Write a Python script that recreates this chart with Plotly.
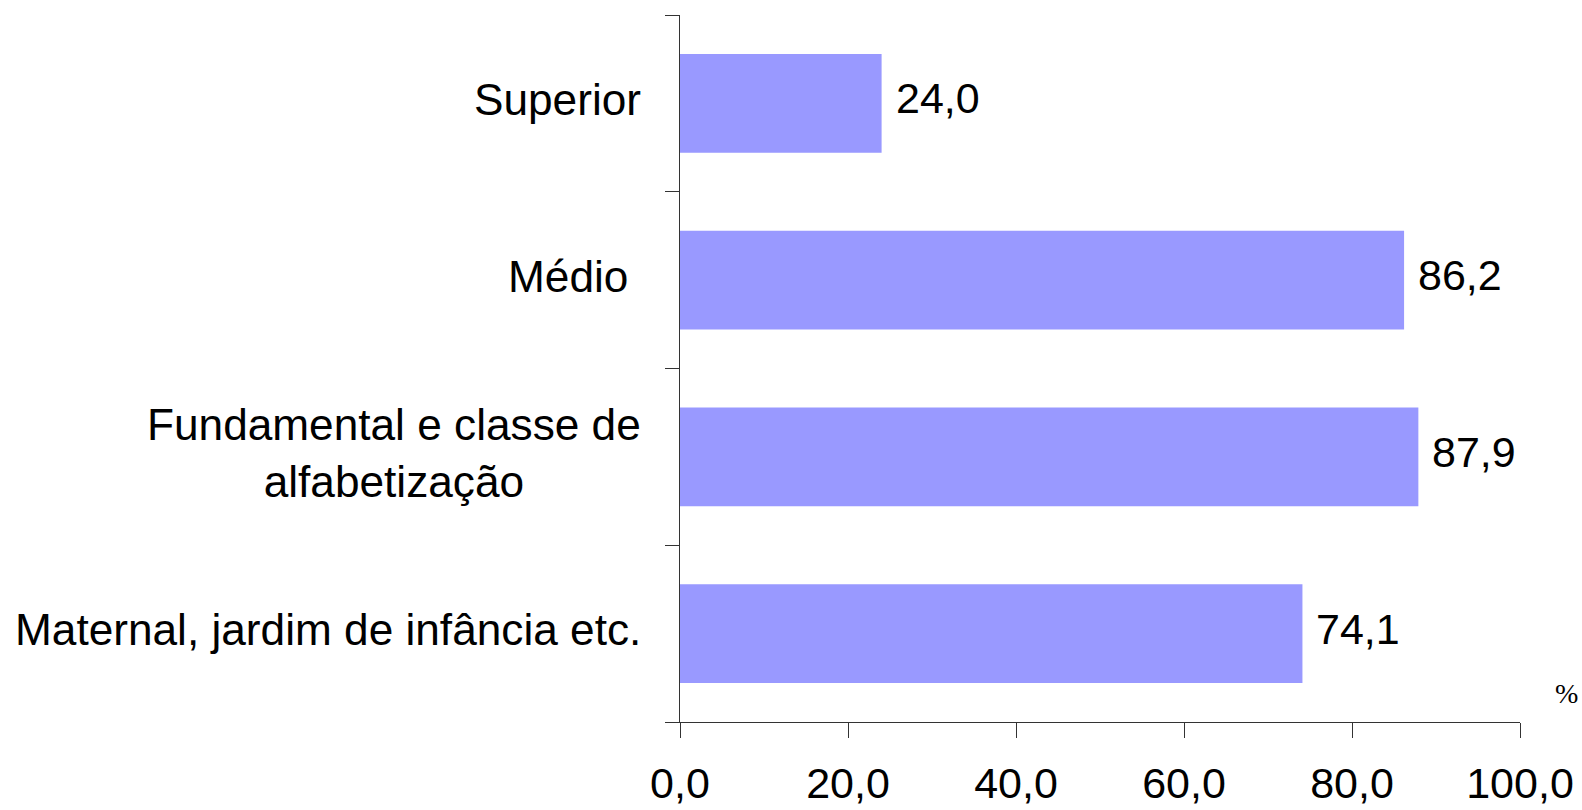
import plotly.graph_objects as go

categories = ["Maternal, jardim de infância etc.",
              "Fundamental e classe de<br>alfabetização",
              "Médio",
              "Superior"]
values = [74.1, 87.9, 86.2, 24.0]
x_ticks = [0, 20, 40, 60, 80, 100]

FONT = "Liberation Sans, Arial, sans-serif"
AX = "#333333"

fig = go.Figure()
fig.add_trace(go.Bar(
    x=values, y=categories, orientation="h",
    marker=dict(color="#9999FF", line=dict(width=0)),
    hoverinfo="skip",
))

annotations = []
for c, v in zip(categories, values):
    annotations.append(dict(
        x=v, y=c, xref="x", yref="y", text=f"{v:.1f}".replace(".", ","),
        showarrow=False, xanchor="left", yanchor="middle", xshift=12, yshift=5,
        font=dict(family=FONT, size=43, color="black"),
    ))
    annotations.append(dict(
        x=0, y=c, xref="x", yref="y",
        text=c + ("&nbsp;" if c == "Médio" else ""),
        showarrow=False, xanchor="right", yanchor="middle", align="center",
        xshift=-37, yshift=4,
        font=dict(family=FONT, size=44.2, color="black"),
    ))
annotations.append(dict(
    x=1.0548, y=0.041, xref="paper", yref="paper", text="%",
    showarrow=False, xanchor="center", yanchor="middle",
    font=dict(family="Liberation Serif, Times New Roman, serif", size=28, color="black"),
))

fig.update_layout(
    width=1582, height=810,
    margin=dict(l=680, r=62, t=15, b=88),
    paper_bgcolor="white", plot_bgcolor="white",
    separators=",.",
    bargap=0.44,
    showlegend=False,
    annotations=annotations,
    xaxis=dict(
        range=[0, 100], tickvals=x_ticks, tickformat=".1f",
        showgrid=False, zeroline=False,
        showline=True, linecolor=AX, linewidth=1,
        ticks="outside", ticklen=15, tickcolor=AX, tickwidth=1,
        ticklabelstandoff=8,
        tickfont=dict(family=FONT, size=43, color="black"),
        fixedrange=True, automargin=False,
    ),
    yaxis=dict(
        categoryorder="array", categoryarray=categories,
        range=[-0.5, 3.5],
        showgrid=False, zeroline=False,
        showline=True, linecolor=AX, linewidth=1,
        ticks="outside", ticklen=14, tickcolor=AX, tickwidth=1,
        tickson="boundaries",
        showticklabels=False,
        fixedrange=True, automargin=False,
    ),
)

fig.write_html("out.html", config={"displayModeBar": False},
               post_script="document.body.style.margin='0';document.body.style.overflow='hidden';")
